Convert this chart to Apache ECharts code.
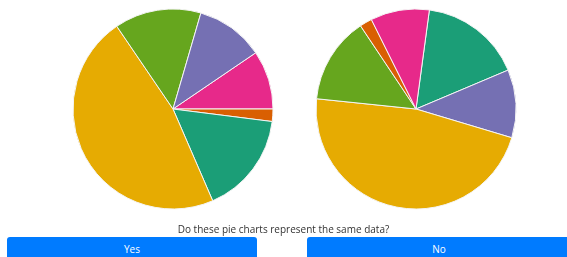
<!DOCTYPE html>
<html>
<head>
<meta charset="utf-8">
<script src="https://cdn.jsdelivr.net/npm/echarts@6/dist/echarts.min.js"></script>
<style>
  html, body { margin: 0; padding: 0; background: #fff; overflow: hidden; }
  #page { position: relative; width: 567px; height: 257px; overflow: hidden; }
  #chart { position: absolute; left: 0; top: 0; width: 567px; height: 257px; }
  #question { position: absolute; left: 0; width: 567px; top: 222px; text-align: center;
    font-family: "Open Sans", sans-serif; font-size: 10px; color: #333; line-height: 14px; }
  .btn { position: absolute; top: 237px; height: 25px; background: #007bff; color: #fff;
    border-radius: 3px; font-family: "Open Sans", sans-serif; font-size: 10px;
    line-height: 24px; text-align: center; }
</style>
</head>
<body>
<div id="page">
  <div id="chart"></div>
  <div id="question">Do these pie charts represent the same data?</div>
  <div class="btn" style="left:7px;width:250px;">Yes</div>
  <div class="btn" style="left:307px;width:264px;">No</div>
</div>
<script>
// same six values, shown in two different orders
var leftNames = ['pink', 'orange', 'teal', 'gold', 'green', 'purple'];
var leftValues = [9.5, 2, 16.5, 47, 14, 11];
var rightNames = ['teal', 'purple', 'gold', 'green', 'orange', 'pink'];
var rightValues = [16.5, 11, 47, 14, 2, 9.5];

var colorOf = {
  teal: '#1b9e77',
  orange: '#d95f02',
  purple: '#7570b3',
  pink: '#e7298a',
  green: '#66a61e',
  gold: '#e6ab02'
};

function pieData(names, values) {
  return names.map(function (n, i) {
    return { name: n, value: values[i], itemStyle: { color: colorOf[n] } };
  });
}

var myChart = echarts.init(document.getElementById('chart'));
var option = {
  animation: false,
  series: [
    {
      type: 'pie',
      center: [173, 109],
      radius: 100,
      startAngle: 34.2,
      label: { show: false },
      labelLine: { show: false },
      itemStyle: { borderColor: '#f4f4f4', borderWidth: 1 },
      data: pieData(leftNames, leftValues)
    },
    {
      type: 'pie',
      center: [416, 109],
      radius: 100,
      startAngle: 82.3,
      label: { show: false },
      labelLine: { show: false },
      itemStyle: { borderColor: '#f4f4f4', borderWidth: 1 },
      data: pieData(rightNames, rightValues)
    }
  ]
};
myChart.setOption(option);
</script>
</body>
</html>
